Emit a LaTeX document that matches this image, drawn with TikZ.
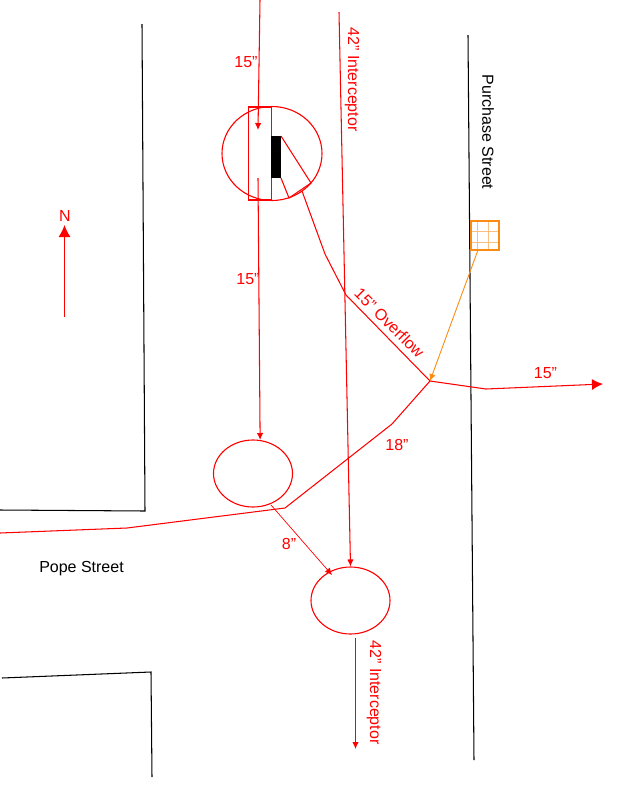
\documentclass[tikz,border=0pt]{standalone}
\usepackage{fontspec}
\setmainfont{Liberation Sans}
\usetikzlibrary{shapes.geometric,arrows.meta}
\definecolor{grate}{RGB}{250,140,20}
\tikzset{
    pipe/.style={draw,red,line width=1.05pt},
    street/.style={draw,black,line width=1.05pt},
    manhole/.style={ellipse,draw,red,line width=1.1pt,inner sep=0pt,minimum width=79pt,minimum height=67pt},
    pipelabel/.style={red,inner sep=0pt,font=\fontsize{16}{18}\selectfont},
    streetlabel/.style={black,inner sep=0pt,font=\fontsize{16}{18}\selectfont},
    smalltip/.style={-{Latex[length=7pt,width=6.5pt]}},
    bigtip/.style={-{Latex[length=11pt,width=11pt]}},
}
\begin{document}
\begin{tikzpicture}[x=1pt,y=-1pt]
    \useasboundingbox (0,0) rectangle (635,788);

    % streets
    \coordinate (nwA) at (142,24);
    \coordinate (nwB) at (145,511);
    \coordinate (nwC) at (0,510);
    \coordinate (swA) at (2,678);
    \coordinate (swB) at (151,672);
    \coordinate (swC) at (152,777);
    \coordinate (eastA) at (468,35);
    \coordinate (eastB) at (474,760);
    \draw [street] (nwA) -- (nwB) -- (nwC);
    \draw [street] (swA) -- (swB) -- (swC);
    \draw [street] (eastA) -- (eastB);
    \node [streetlabel,rotate=-90] (purchase) at (488,132) {Purchase Street};
    \node [streetlabel] (pope) at (81.5,568.5) {Pope Street};

    % north arrow
    \coordinate (northA) at (64.5,317);
    \coordinate (northB) at (64.5,225);
    \draw [pipe,-{Latex[length=12pt,width=12pt]}] (northA) -- (northB);
    \node [pipelabel] (north) at (65,215.5) {N};

    % manholes
    \node [manhole,minimum width=100pt,minimum height=94pt] (regulator) at (272,153.5) {};
    \node [manhole] (mhWest) at (253,473.5) {};
    \node [manhole] (mhSouth) at (350.5,600.5) {};

    % regulator chamber
    \node [draw,red,line width=1.05pt,inner sep=0pt,minimum width=23pt,minimum height=93pt] (chamber) at (260,153.5) {};
    \node [fill=black,inner sep=0pt,minimum width=9.5pt,minimum height=42pt] (weir) at (276.2,157) {};
    \coordinate (weirA) at (281,136);
    \coordinate (weirB) at (281,178);
    \coordinate (weirC) at (311,183);
    \coordinate (weirD) at (289,198);
    \draw [pipe] (weirA) -- (weirC) -- (weirD) -- (weirB);

    % 15" combined line
    \coordinate (topIn) at (260,0);
    \coordinate (topEnd) at (258,130);
    \coordinate (chamberOut) at (258,178);
    \draw [pipe,smalltip] (topIn) -- (topEnd);
    \draw [pipe,smalltip] (chamberOut) -- (mhWest.78);
    \node [pipelabel] (labelTop) at (246,62.5) {15"};
    \node [pipelabel] (labelMid) at (248,279.5) {15"};

    % 42" interceptor
    \coordinate (icTop) at (339,12);
    \coordinate (icBelow) at (355.5,638);
    \coordinate (icEnd) at (355.5,749);
    \draw [pipe,smalltip] (icTop) -- (mhSouth.north);
    \draw [pipe,smalltip] (icBelow) -- (icEnd);
    \node [pipelabel,rotate=-90] (labelIcTop) at (352,79.5) {42" Interceptor};
    \node [pipelabel,rotate=-90] (labelIcEnd) at (374,692.5) {42" Interceptor};

    % overflow and outfall
    \coordinate (ovA) at (302,191);
    \coordinate (ovB) at (325,254);
    \coordinate (ovC) at (346,295);
    \coordinate (junction) at (430,381);
    \coordinate (outA) at (486,389);
    \coordinate (outB) at (603,384);
    \coordinate (popeA) at (0,533);
    \coordinate (popeB) at (127,528);
    \coordinate (popeC) at (285,508);
    \coordinate (popeD) at (392,424);
    \draw [pipe] (ovA) -- (ovB) -- (ovC) -- (junction);
    \draw [pipe] (popeA) -- (popeB) -- (popeC) -- (popeD) -- (junction);
    \draw [pipe,bigtip] (junction) -- (outA) -- (outB);
    \node [pipelabel,rotate=-45] (labelOverflow) at (389.5,323) {15" Overflow};
    \node [pipelabel] (labelOut) at (545.5,373.5) {15"};
    \node [pipelabel] (labelEighteen) at (397,444.5) {18"};

    % 8" connection
    \coordinate (eightA) at (271,505);
    \coordinate (eightB) at (332,575);
    \draw [red,line width=0.7pt,smalltip] (eightA) -- (eightB);
    \node [pipelabel] (labelEight) at (289,543.5) {8"};

    % catch basin
    \coordinate (gridA) at (471,221);
    \coordinate (gridB) at (499,250);
    \coordinate (basinOut) at (478,250);
    \draw [grate!55,line width=1pt] (477,221) -- (477,250) (488,221) -- (488,250)
        (471,231) -- (499,231) (471,242) -- (499,242);
    \draw [grate,line width=1.1pt] (gridA) rectangle (gridB);
    \draw [grate,line width=0.9pt,smalltip] (basinOut) -- (junction);
\end{tikzpicture}
\end{document}
